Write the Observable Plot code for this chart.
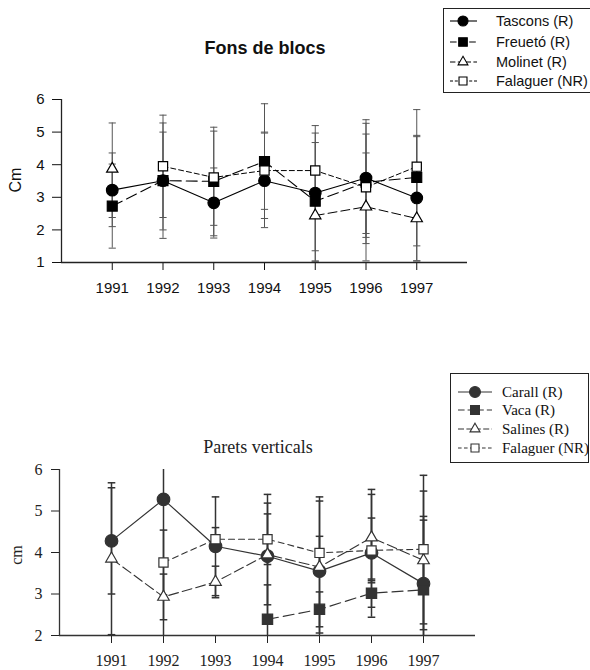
<!DOCTYPE html>
<html><head><meta charset="utf-8">
<script src="https://cdn.jsdelivr.net/npm/d3@7"></script>
<script src="https://cdn.jsdelivr.net/npm/@observablehq/plot@0.6"></script>
<style>
html,body{margin:0;padding:0;background:#fff;}
#root{position:relative;width:590px;height:670px;overflow:hidden;background:#fff;}
.t1{font-family:"Liberation Sans",Arial,sans-serif;font-weight:bold;font-size:18px;color:#111;}
.t2{font-family:"Liberation Serif","Times New Roman",serif;font-size:18px;color:#222;}
.legend{position:absolute;border:1px solid #222;background:#fff;box-sizing:border-box;}
</style></head><body><div id="root"></div>
<script>
const years = [1991, 1992, 1993, 1994, 1995, 1996, 1997];

// ---- Fons de blocs (top) ----
const topTitle = "Fons de blocs";
const topYLabel = "Cm";
const topSeries = ["Tascons (R)", "Freuetó (R)", "Molinet (R)", "Falaguer (NR)"];
const tasconsMean = [3.22, 3.51, 2.83, 3.51, 3.13, 3.59, 2.98];
const tasconsHi   = [4.36, 5.28, 3.90, 4.97, 4.97, 5.38, 4.90];
const tasconsLo   = [2.10, 1.74, 1.75, 2.07, 1.36, 1.77, 1.05];
const freuetoMean = [2.73, 3.51, 3.49, 4.10, 2.88, 3.46, 3.61];
const freuetoHi   = [4.02, 5.00, 5.15, 5.87, 4.68, 5.27, 5.69];
const freuetoLo   = [1.44, 2.00, 1.82, 2.35, 1.05, 1.58, 1.51];
const molinetMean = [3.87, null, null, null, 2.44, 2.71, 2.35];
const molinetHi   = [5.28, null, null, null, 3.85, 4.36, 3.65];
const molinetLo   = [2.38, null, null, null, 1.02, 1.05, 1.05];
const falaguer1Mean = [null, 3.95, 3.61, 3.82, 3.82, 3.31, 3.94];
const falaguer1Hi   = [null, 5.52, 5.03, 5.00, 5.20, 4.94, 4.86];
const falaguer1Lo   = [null, 2.38, 2.14, 2.63, 2.44, 1.89, 3.02];
const topYTicks = [1, 2, 3, 4, 5, 6];

// ---- Parets verticals (bottom) ----
const botTitle = "Parets verticals";
const botYLabel = "cm";
const botSeries = ["Carall (R)", "Vaca (R)", "Salines (R)", "Falaguer (NR)"];
const carallMean = [4.28, 5.28, 4.15, 3.91, 3.55, 3.99, 3.25];
const carallHi   = [5.56, 6.90, 5.34, 5.19, 5.34, 5.52, 4.87];
const carallLo   = [3.00, 1.90, 2.96, 2.74, 1.76, 2.44, 1.63];
const vacaMean = [null, null, null, 2.39, 2.63, 3.02, 3.10];
const vacaHi   = [null, null, null, 3.22, 3.05, 3.36, 4.78];
const vacaLo   = [null, null, null, 1.56, 2.21, 2.68, 1.42];
const salinesMean = [3.85, 2.93, 3.29, 3.95, 3.65, 4.36, 3.81];
const salinesHi   = [5.68, 3.48, 3.67, 5.40, 5.24, 5.40, 5.48];
const salinesLo   = [2.02, 2.38, 2.91, 2.50, 2.06, 3.32, 2.14];
const falaguer2Mean = [null, 3.76, 4.32, 4.32, 3.99, 4.05, 4.08];
const falaguer2Hi   = [null, 4.54, 4.60, 4.93, 4.39, 4.83, 5.86];
const falaguer2Lo   = [null, 2.98, 4.04, 3.71, 3.59, 3.27, 2.28];
const botYTicks = [2, 3, 4, 5, 6];

function rows(mean, hi, lo) {
  return years.map((y, i) => ({year: y, v: mean[i], hi: hi[i], lo: lo[i]}));
}

const capSymbol = {draw(ctx, size) { const r = Math.sqrt(size / Math.PI); ctx.moveTo(-r, 0); ctx.lineTo(r, 0); }};

function seriesMarks(s, errColor, errWidth, capR) {
  const valid = rows(s.mean, s.hi, s.lo).filter(d => d.v != null);
  return [
    Plot.ruleX(valid, {x: "year", y1: "lo", y2: "hi", stroke: errColor, strokeWidth: errWidth, clip: true}),
    Plot.dot(valid, {x: "year", y: "hi", symbol: capSymbol, r: capR, stroke: errColor, strokeWidth: errWidth, fill: "none", clip: true}),
    Plot.dot(valid, {x: "year", y: "lo", symbol: capSymbol, r: capR, stroke: errColor, strokeWidth: errWidth, fill: "none", clip: true})
  ];
}
function seriesLine(s) {
  return Plot.line(rows(s.mean, s.hi, s.lo), {x: "year", y: "v", stroke: s.color, strokeWidth: s.lw, strokeDasharray: s.dash});
}
function seriesDots(s) {
  const valid = rows(s.mean, s.hi, s.lo).filter(d => d.v != null);
  return Plot.dot(valid, {x: "year", y: "v", symbol: s.symbol, r: s.r, fill: s.fill, stroke: s.color, strokeWidth: 1.2});
}

const topDefs = [
  {name: topSeries[0], mean: tasconsMean, hi: tasconsHi, lo: tasconsLo, symbol: "circle", r: 5.8, fill: "#000", color: "#000", dash: null, lw: 1.1},
  {name: topSeries[1], mean: freuetoMean, hi: freuetoHi, lo: freuetoLo, symbol: "square", r: 5.6, fill: "#000", color: "#000", dash: "11,5", lw: 1.1},
  {name: topSeries[2], mean: molinetMean, hi: molinetHi, lo: molinetLo, symbol: "triangle", r: 4.2, fill: "#fff", color: "#000", dash: "9,4", lw: 1},
  {name: topSeries[3], mean: falaguer1Mean, hi: falaguer1Hi, lo: falaguer1Lo, symbol: "square", r: 5.2, fill: "#fff", color: "#000", dash: "5,3", lw: 1}
];
const botDefs = [
  {name: botSeries[0], mean: carallMean, hi: carallHi, lo: carallLo, symbol: "circle", r: 6.3, fill: "#333", color: "#333", dash: null, lw: 1.2},
  {name: botSeries[1], mean: vacaMean, hi: vacaHi, lo: vacaLo, symbol: "square", r: 5.8, fill: "#333", color: "#333", dash: "11,5", lw: 1.2},
  {name: botSeries[2], mean: salinesMean, hi: salinesHi, lo: salinesLo, symbol: "triangle", r: 4.3, fill: "#fff", color: "#333", dash: "10,4", lw: 1.1},
  {name: botSeries[3], mean: falaguer2Mean, hi: falaguer2Hi, lo: falaguer2Lo, symbol: "square", r: 5.2, fill: "#fff", color: "#333", dash: "6,4", lw: 1.1}
];

const root = document.getElementById("root");
function place(el, left, top) { el.style.position = "absolute"; el.style.left = left + "px"; el.style.top = top + "px"; root.appendChild(el); }

// top chart
const p1 = Plot.plot({
  width: 590, height: 300,
  marginLeft: 61, marginRight: 123, marginTop: 99, marginBottom: 38,
  style: {fontFamily: "'Liberation Sans', Arial, sans-serif", fontSize: "15px", color: "#111", background: "transparent", overflow: "visible"},
  x: {domain: [1990, 1998], ticks: years, tickFormat: "d", tickSize: 8, tickPadding: 12, label: null},
  y: {domain: [1, 6], ticks: topYTicks, tickFormat: "d", tickSize: 9, tickPadding: 8, label: null},
  marks: [
    ...topDefs.flatMap(s => seriesMarks(s, "#555", 1, 3.6)),
    Plot.ruleX([1990], {stroke: "#222", strokeWidth: 1.3}),
    Plot.ruleY([1], {stroke: "#222", strokeWidth: 1.3}),
    ...topDefs.map(seriesLine),
    ...topDefs.map(seriesDots)
  ]
});
place(p1, 0, 0);

// bottom chart
const p2 = Plot.plot({
  width: 590, height: 340,
  marginLeft: 59, marginRight: 115, marginTop: 139, marginBottom: 35,
  style: {fontFamily: "'Liberation Serif', 'Times New Roman', serif", fontSize: "16px", color: "#222", background: "transparent", overflow: "visible"},
  x: {domain: [1990, 1998], ticks: years, tickFormat: "d", tickSize: 8, tickPadding: 11, label: null},
  y: {domain: [2, 6], ticks: botYTicks, tickFormat: "d", tickSize: 8, tickPadding: 9, label: null},
  marks: [
    ...botDefs.flatMap(s => seriesMarks(s, "#333", 1.5, 3.8)),
    Plot.ruleX([1990], {stroke: "#333", strokeWidth: 1.3}),
    Plot.ruleY([2], {stroke: "#333", strokeWidth: 1.3}),
    ...botDefs.map(seriesLine),
    ...botDefs.map(seriesDots)
  ]
});
place(p2, 0, 330);

// titles & axis labels
function textDiv(txt, cls, cx, cy, rotate, extra) {
  const d = document.createElement("div");
  d.className = cls; d.textContent = txt;
  d.style.position = "absolute"; d.style.whiteSpace = "nowrap";
  d.style.left = cx + "px"; d.style.top = cy + "px";
  d.style.transform = "translate(-50%,-50%)" + (rotate ? " rotate(-90deg)" : "");
  d.style.lineHeight = "1";
  Object.assign(d.style, extra || {});
  root.appendChild(d);
}
textDiv(topTitle, "t1", 265, 48);
textDiv(botTitle, "t2", 258, 447);
textDiv(topYLabel, "t1", 16, 180, true, {fontWeight: "normal", fontSize: "16px"});
textDiv(botYLabel, "t2", 17, 555, true, {fontSize: "16px"});

// legends
function legend(defs, box, rowsY, font, fs, lineX, symX, textX, symScale) {
  const lg = document.createElement("div");
  lg.className = "legend";
  lg.style.left = box.x + "px"; lg.style.top = box.y + "px";
  lg.style.width = box.w + "px"; lg.style.height = box.h + "px";
  root.appendChild(lg);
  defs.forEach((s, i) => {
    const svg = d3.create("svg").attr("width", box.w).attr("height", 20)
      .style("position", "absolute").style("left", "-1px").style("top", (rowsY[i] - box.y - 11) + "px").style("overflow", "visible");
    svg.append("line").attr("x1", lineX[0]).attr("x2", lineX[1]).attr("y1", 10).attr("y2", 10)
      .attr("stroke", s.color).attr("stroke-width", s.lw).attr("stroke-dasharray", s.dash ? s.dash.split(",").map(v => v * 0.6).join(",") : null);
    const sym = {circle: d3.symbolCircle, square: d3.symbolSquare, triangle: d3.symbolTriangle}[s.symbol];
    svg.append("path").attr("d", d3.symbol(sym, Math.PI * s.r * s.r * symScale)()).attr("transform", `translate(${symX},10)`)
      .attr("fill", s.fill).attr("stroke", s.color).attr("stroke-width", 1.1);
    svg.append("text").attr("x", textX).attr("y", 10).attr("dy", "0.35em").attr("font-family", font).attr("font-size", fs)
      .attr("fill", "#111").text(s.name);
    lg.appendChild(svg.node());
  });
}
legend(topDefs, {x: 443, y: 8, w: 150, h: 85}, [21, 42, 62, 81], "'Liberation Sans', Arial, sans-serif", 14.5, [7, 34], 20, 53, 0.75);
legend(botDefs, {x: 450, y: 373, w: 139, h: 90}, [392, 410, 429, 448], "'Liberation Serif', 'Times New Roman', serif", 15, [8, 42], 25, 52, 0.75);
</script>
</body></html>
